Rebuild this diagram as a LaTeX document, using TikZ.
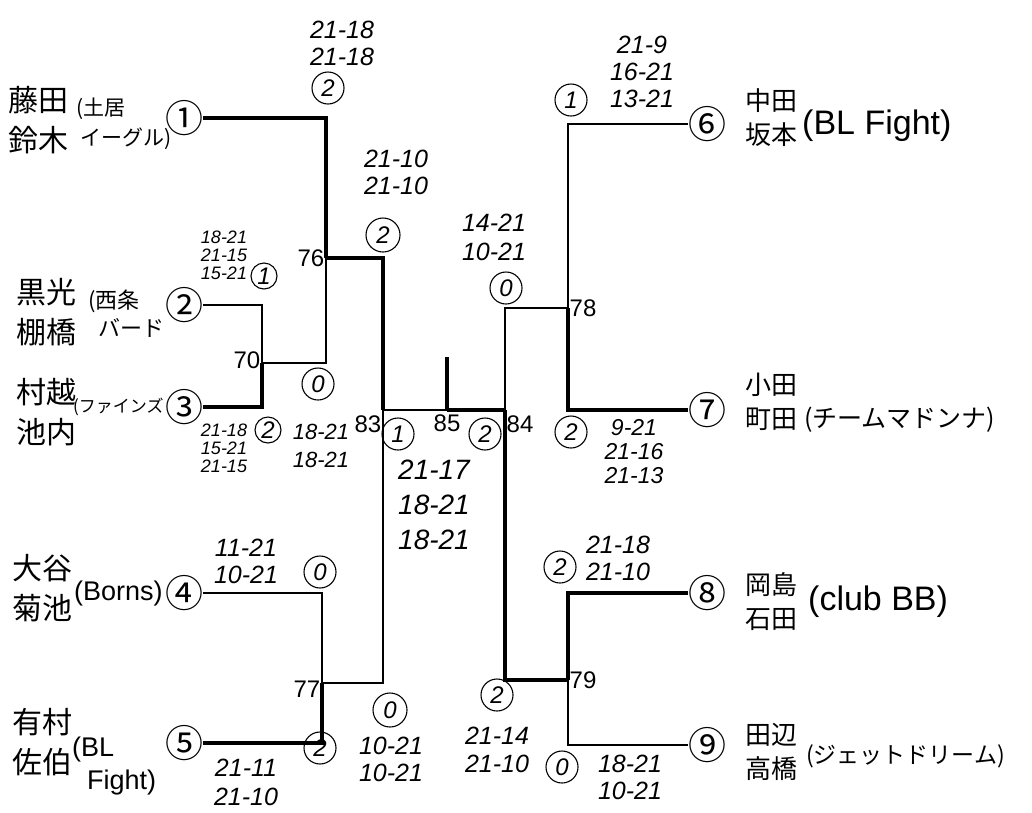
\documentclass[tikz,border=0pt]{standalone}
\usepackage{fontspec}
\setmainfont{Liberation Sans}
\newfontfamily\jpfont{Noto Sans CJK JP}
\usetikzlibrary{positioning}

\tikzset{
  entry/.style={font=\jpfont\fontsize{38}{40}\selectfont, inner sep=0pt},
  pair/.style={font=\jpfont\fontsize{30}{40}\selectfont, align=left, inner sep=0pt},
  club/.style={font=\jpfont\fontsize{22}{28}\selectfont, align=left, inner sep=0pt},
  score/.style={font=\itshape\fontsize{25}{27}\selectfont, align=center, inner sep=0pt},
  smallscore/.style={font=\itshape\fontsize{18}{18}\selectfont, align=center, inner sep=0pt},
  games/.style={circle, draw, line width=1.1pt, minimum size=32pt, inner sep=0pt, font=\itshape\fontsize{24}{24}\selectfont},
  matchno/.style={font=\fontsize{24}{24}\selectfont, inner sep=1.5pt},
  bline/.style={line width=1.4pt},
  wline/.style={line width=3.5pt},
}

\begin{document}
\begin{tikzpicture}[x=1pt, y=-1pt]
    \useasboundingbox[fill=white] (0,0) rectangle (1032,812);

    % Entries, left half
    \node[entry] (e1) at (184,118) {①};
    \node[entry] (e2) at (184,305) {②};
    \node[entry] (e3) at (184,407) {③};
    \node[entry] (e4) at (184,593) {④};
    \node[entry] (e5) at (184,743) {⑤};

    % Entries, right half
    \node[entry] (e6) at (707,124) {⑥};
    \node[entry] (e7) at (707,410) {⑦};
    \node[entry] (e8) at (707,593) {⑧};
    \node[entry] (e9) at (707,745) {⑨};

    % Players and clubs
    \node[pair, anchor=west] (p1) at (8,120) {藤田\\鈴木};
    \node[club, anchor=west, font=\jpfont\fontsize{21}{30}\selectfont] (k1) at (76,124) {(土居\\\ イーグル)};
    \node[pair, anchor=west] (p2) at (16,312) {黒光\\棚橋};
    \node[club, anchor=west] (k2) at (88,314) {(西条\\\ \ バード};
    \node[pair, anchor=west] (p3) at (16,412) {村越\\池内};
    \node[club, anchor=east, font=\jpfont\fontsize{17}{20}\selectfont] (k3) at ([xshift=-1]e3.west) {(ファインズ};
    \node[pair, anchor=west] (p4) at (12,588) {大谷\\菊池};
    \node[club, anchor=east, font=\fontsize{27}{30}\selectfont] (k4) at ([xshift=-2]e4.west) {(Borns)};
    \node[pair, anchor=west] (p5) at (12,742) {有村\\佐伯};
    \node[club, anchor=west, font=\fontsize{27}{33}\selectfont] (k5) at (72,766) {(BL\\\ \ Fight)};

    \node[pair, anchor=west, font=\jpfont\fontsize{26}{34}\selectfont] (p6) at (745,118) {中田\\坂本};
    \node[club, anchor=west, font=\fontsize{34}{36}\selectfont] (k6) at (802,126) {(BL Fight)};
    \node[pair, anchor=west, font=\jpfont\fontsize{26}{34}\selectfont] (p7) at (745,402) {小田\\町田};
    \node[club, anchor=west, font=\jpfont\fontsize{25}{28}\selectfont] (k7) at (804,420) {(チームマドンナ)};
    \node[pair, anchor=west, font=\jpfont\fontsize{26}{34}\selectfont] (p8) at (745,602) {岡島\\石田};
    \node[club, anchor=west, font=\fontsize{34}{36}\selectfont] (k8) at (808,602) {(club BB)};
    \node[pair, anchor=west, font=\jpfont\fontsize{26}{34}\selectfont] (p9) at (745,752) {田辺\\高橋};
    \node[club, anchor=west, font=\jpfont\fontsize{23}{26}\selectfont] (k9) at (806,756) {(ジェットドリーム)};

    % Junctions
    \coordinate (m70) at (262,363);
    \coordinate (m76) at (326,258);
    \coordinate (m77) at (322,683);
    \coordinate (m83) at (383,410);
    \coordinate (m85) at (447,410);
    \coordinate (m84) at (505,410);
    \coordinate (m78) at (568,308);
    \coordinate (m79) at (568,680);
    \coordinate (champ) at (447,357);

    % Bracket lines
    \draw[bline] (e2.east) -| (m70);
    \draw[wline] (e3.east) -| (m70);
    \draw[wline] (e1.east) -| (m76);
    \draw[bline] (m70) -| (m76);
    \draw[bline] (e4.east) -| (m77);
    \draw[wline] (e5.east) -| (m77);
    \draw[wline] (m76) -| (m83);
    \draw[bline] (m77) -| (m83);
    \draw[bline] (e6.west) -| (m78);
    \draw[wline] (e7.west) -| (m78);
    \draw[wline] (e8.west) -| (m79);
    \draw[bline] (e9.west) -| (m79);
    \draw[bline] (m78) -| (m84);
    \draw[wline] (m79) -| (m84);
    \draw[bline] (m83) -- (m85);
    \draw[wline] (m84) -- (m85);
    \draw[wline] (m85) -- (champ);

    % Match numbers
    \node[matchno, left] at (m76) {76};
    \node[matchno, left] at ([yshift=3]m70) {70};
    \node[matchno, below left] at ([yshift=-4]m83) {83};
    \node[matchno, below] at ([yshift=-3]m85) {85};
    \node[matchno, below right] at ([yshift=-4]m84) {84};
    \node[matchno, right] at (m78) {78};
    \node[matchno, left] at ([yshift=-6]m77) {77};
    \node[matchno, right] at (m79) {79};

    % Match 70
    \node[smallscore] at (224,255) {18-21\\21-15\\15-21};
    \node[games, minimum size=26pt] at (264,276) {1};
    \node[smallscore] at (224,448) {21-18\\15-21\\21-15};
    \node[games, minimum size=26pt] at (268,430) {2};

    % Match 76
    \node[score] at (342,43) {21-18\\21-18};
    \node[games] at (328,88) {2};
    \node[games] at (318,384) {0};
    \node[score, font=\itshape\fontsize{22}{28}\selectfont] at (321,446) {18-21\\18-21};

    % Match 77
    \node[score] at (246,561) {11-21\\10-21};
    \node[games] at (320,572) {0};
    \node[score, font=\itshape\fontsize{25}{29}\selectfont] at (246,782) {21-11\\21-10};
    \node[games] at (320,748) {2};

    % Match 83
    \node[score] at (396,172) {21-10\\21-10};
    \node[games, minimum size=34pt] at (383,235) {2};
    \node[games, minimum size=34pt] at (390,710) {0};
    \node[score] at (391,759) {10-21\\10-21};

    % Final 85
    \node[games] at (398,434) {1};
    \node[games] at (485,434) {2};
    \node[score, font=\itshape\fontsize{28}{35}\selectfont] at (434,505) {21-17\\18-21\\18-21};

    % Match 84
    \node[score, font=\itshape\fontsize{25}{29}\selectfont] at (494,237) {14-21\\10-21};
    \node[games] at (506,288) {0};
    \node[games] at (497,695) {2};
    \node[score, font=\itshape\fontsize{25}{28}\selectfont] at (497,750) {21-14\\21-10};

    % Match 78
    \node[games] at (571,100) {1};
    \node[score] at (642,72) {21-9\\16-21\\13-21};
    \node[games] at (571,432) {2};
    \node[score, font=\itshape\fontsize{23}{24}\selectfont] at (634,452) {9-21\\21-16\\21-13};

    % Match 79
    \node[games] at (560,567) {2};
    \node[score] at (618,558) {21-18\\21-10};
    \node[games] at (562,767) {0};
    \node[score] at (630,777) {18-21\\10-21};
\end{tikzpicture}
\end{document}
